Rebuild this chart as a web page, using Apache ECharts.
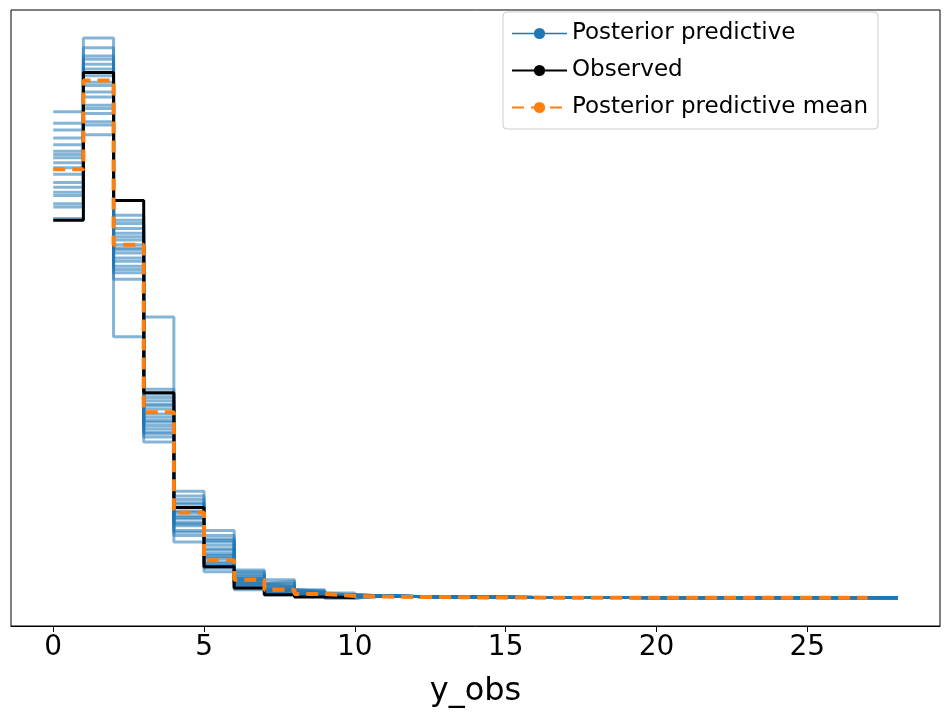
<!DOCTYPE html>
<html><head><meta charset="utf-8">
<script src="https://cdn.jsdelivr.net/npm/echarts@6/dist/echarts.min.js"></script>
<style>html,body{margin:0;padding:0;background:#fff}#c{width:950px;height:722px}</style>
</head><body><div id="c"></div>
<script>
// Observed relative frequencies per integer bin (bin k = [k, k+1))
const observed = [0.230,0.320,0.242,0.125,0.055,0.019,0.006,0.002,0.0006,0.0003];
// Posterior predictive mean, bins 0..26
const ppMean = [0.261,0.315,0.215,0.113,0.052,0.023,0.011,0.005,0.0024,0.0012,
  0.0008,0.0006,0.0005,0.0003,0.0002,0.0002,0.0001,0.0001,0.0001,0.0001,
  0.0001,0.0001,0.0001,0.0001,0.0001,0.0001,0.0001];
// Posterior predictive draws, bins 0..9
const ppDraws = [
  [0.296,0.341,0.233,0.127,0.065,0.041,0.017,0.011,0.005,0.003],
  [0.231,0.282,0.194,0.095,0.034,0.016,0.005,0.002,0.001,0.001],
  [0.265,0.320,0.215,0.110,0.050,0.025,0.010,0.005,0.002,0.001],
  [0.250,0.300,0.159,0.171,0.045,0.022,0.012,0.004,0.003,0.002],
  [0.280,0.330,0.225,0.118,0.058,0.030,0.008,0.006,0.002,0.001],
  [0.240,0.290,0.205,0.100,0.040,0.020,0.014,0.007,0.004,0.002],
  [0.272,0.312,0.220,0.105,0.055,0.035,0.009,0.003,0.001,0.000],
  [0.258,0.325,0.210,0.120,0.048,0.027,0.011,0.008,0.003,0.001],
  [0.245,0.305,0.228,0.098,0.062,0.018,0.015,0.004,0.002,0.001],
  [0.285,0.295,0.200,0.115,0.038,0.032,0.007,0.009,0.001,0.002],
  [0.262,0.335,0.218,0.108,0.052,0.024,0.013,0.005,0.004,0.000],
  [0.238,0.318,0.198,0.122,0.044,0.038,0.006,0.003,0.002,0.001],
  [0.268,0.308,0.212,0.112,0.046,0.029,0.010,0.006,0.003,0.001],
  [0.276,0.328,0.222,0.103,0.057,0.021,0.012,0.004,0.002,0.001],
  [0.253,0.298,0.207,0.117,0.041,0.034,0.008,0.007,0.001,0.002],
  [0.289,0.314,0.230,0.101,0.060,0.026,0.016,0.002,0.003,0.001],
  [0.247,0.322,0.202,0.124,0.049,0.019,0.009,0.010,0.002,0.000],
  [0.270,0.288,0.213,0.107,0.053,0.036,0.011,0.005,0.004,0.001]
];
// Shared tail of the draws, bins 10..27
const ppTail = [0.0012,0.0008,0.0006,0.0005,0.0004,0.0003,0.0002,0.0002,0.0002,
  0.0001,0.0001,0.0001,0.0001,0.0001,0.0001,0.0001,0.0001,0.0001];
const xTicks = [0,5,10,15,20,25];

function steps(vals){
  const d = vals.map((v,k)=>[k,v]);
  d.push([vals.length, vals[vals.length-1]]);
  return d;
}
const series = [];
ppDraws.forEach((dr,i)=>{
  series.push({name:'Posterior predictive',type:'line',step:'end',symbol:'none',
    data:steps(dr.concat(ppTail)),lineStyle:{color:'#1f77b4',width:3,opacity:0.55},
    itemStyle:{color:'#1f77b4'},silent:true,z:1});
});
series.push({name:'Observed',type:'line',step:'end',symbol:'none',data:steps(observed),
  lineStyle:{color:'#000',width:3},itemStyle:{color:'#000'},z:3});
series.push({name:'Posterior predictive mean',type:'line',step:'end',symbol:'none',data:steps(ppMean),
  lineStyle:{color:'#ff7f0e',width:4,type:[12,7]},itemStyle:{color:'#ff7f0e'},z:4});

const chart = echarts.init(document.getElementById('c'));
chart.setOption({
  animation:false,
  grid:{left:11,right:10,top:10,bottom:96,show:true,borderColor:'#000',borderWidth:1},
  xAxis:{type:'value',min:-1.4,max:29.4,name:'y_obs',nameLocation:'middle',nameGap:50,
    nameTextStyle:{fontSize:32,color:'#000',fontFamily:'DejaVu Sans'},
    splitLine:{show:false},axisLine:{onZero:false,lineStyle:{color:'#000'}},
    axisTick:{customValues:xTicks,length:6,lineStyle:{color:'#000'}},
    axisLabel:{customValues:xTicks,fontSize:28,color:'#000',fontFamily:'DejaVu Sans',margin:8}},
  yAxis:{type:'value',min:-0.0171,max:0.358,show:true,axisLine:{show:false},axisTick:{show:false},
    axisLabel:{show:false},splitLine:{show:false}},
  legend:{left:503,top:12,orient:'vertical',itemWidth:55,itemHeight:14,itemGap:14,
    backgroundColor:'#fff',borderColor:'#ccc',borderWidth:1,borderRadius:4,padding:[10,10,10,8],
    textStyle:{fontSize:23,color:'#000',fontFamily:'DejaVu Sans'},
    data:[{name:'Posterior predictive',lineStyle:{opacity:1,width:1.5}},
          {name:'Observed'},{name:'Posterior predictive mean'}]},
  series
});
</script></body></html>
